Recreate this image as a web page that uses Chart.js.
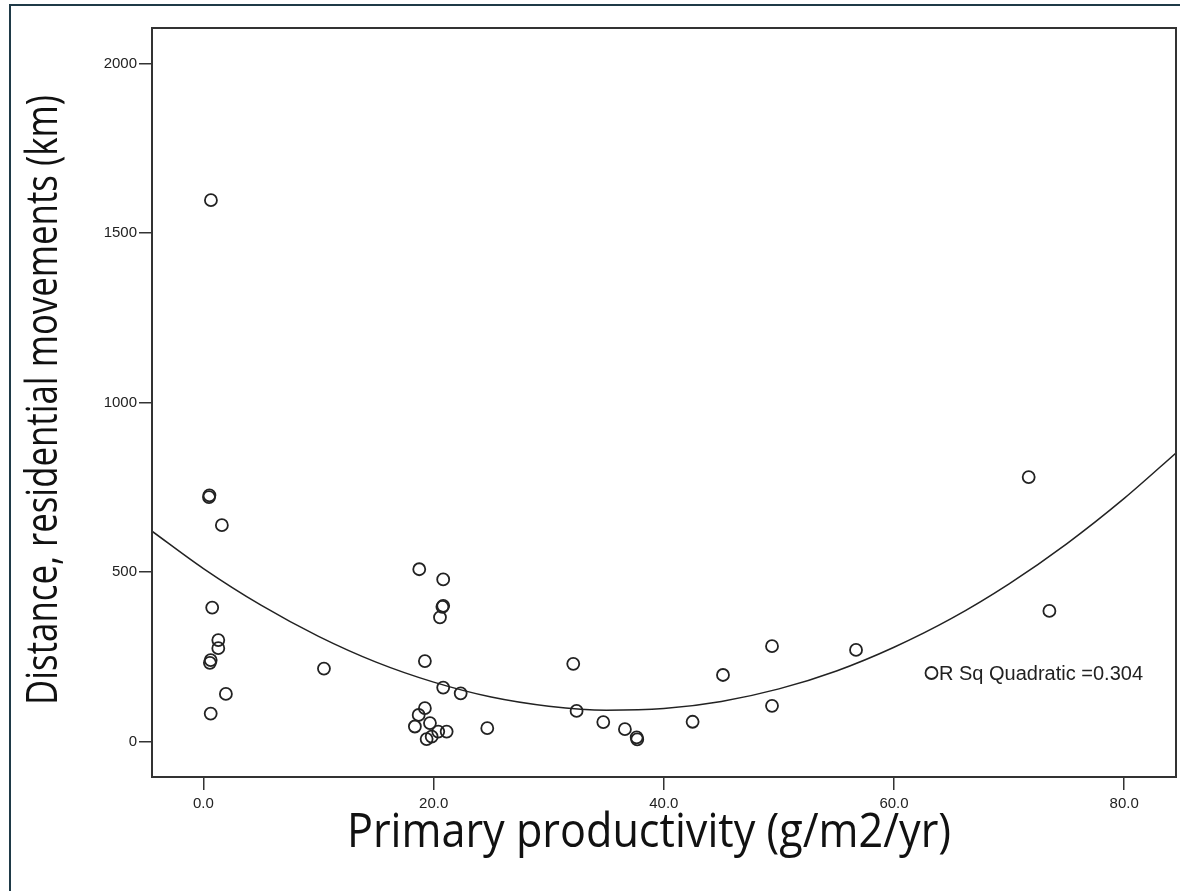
<!DOCTYPE html>
<html>
<head>
<meta charset="utf-8">
<title>Primary productivity vs residential movements</title>
<script src="https://cdn.jsdelivr.net/npm/chart.js@4.4.0/dist/chart.umd.min.js"></script>
<style>
  html, body { margin: 0; padding: 0; background: #fff; overflow: hidden; }
  #wrap { width: 1180px; height: 891px; position: relative; }
</style>
</head>
<body>
<div id="wrap"><canvas id="scatterChart"></canvas></div>
<script>
// observed points (g/m2/yr, km)
const prodX = [0.65, 0.48, 0.52, 1.6, 0.76, 1.29, 1.29, 0.63, 0.56, 1.95, 0.63, 10.47,
  18.75, 20.83, 20.83, 20.76, 20.55, 19.24, 20.83, 22.35, 24.66,
  19.24, 18.7, 18.37, 19.68, 19.39, 19.83, 20.4, 21.13,
  32.13, 32.42, 34.74, 36.62, 37.64, 37.69, 42.5,
  45.14, 49.4, 49.4, 56.7, 71.7, 73.5];
const distY = [1597, 721, 726, 638, 395, 299, 275, 240, 232, 140, 82, 215,
  508, 478, 400, 397, 366, 237, 159, 142, 39,
  98, 78, 44, 54, 7, 14, 29, 29,
  229, 90, 57, 36, 12, 6, 58,
  196, 281, 105, 270, 780, 385];

// quadratic fit line
const fitX = [-4.5, 0, 5, 10, 15, 20, 25, 30, 35, 40, 45, 50, 55, 60, 65, 70, 75, 80, 84.5];
const fitY = [621, 510, 402, 310, 234, 175, 131, 104, 92, 97, 118, 155, 208, 278, 363, 465, 583, 717, 851];

const xTicks = [0, 20, 40, 60, 80];
const yTicks = [0, 500, 1000, 1500, 2000];
const xTitle = "Primary productivity (g/m2/yr)";
const yTitle = "Distance, residential movements (km)";
const rSqLabel = "R Sq Quadratic =0.304";

let points = prodX.map((x, i) => ({ x: x, y: distY[i] }));
let curve = fitX.map((x, i) => ({ x: x, y: fitY[i] }));

// condensed title text: squeeze a humanist face to the width seen in the picture
function drawTitle(c, text, cx, cy, rot, size, targetW) {
  c.save();
  c.translate(cx, cy);
  c.rotate(rot);
  c.font = size + "px 'Open Sans', 'Noto Sans', sans-serif";
  const w = c.measureText(text).width;
  c.scale(targetW / w, 1);
  c.fillStyle = "#111111";
  c.textAlign = "center";
  c.textBaseline = "middle";
  c.fillText(text, 0, 0);
  c.restore();
}

const framePlugin = {
  id: "framePlugin",
  beforeDraw(chart) {
    const c = chart.ctx;
    c.save();
    c.fillStyle = "#ffffff";
    c.fillRect(0, 0, chart.width, chart.height);
    // outer window border
    c.strokeStyle = "#1f3a47";
    c.lineWidth = 2;
    c.beginPath();
    c.moveTo(10, chart.height);
    c.lineTo(10, 5);
    c.lineTo(chart.width, 5);
    c.stroke();
    c.restore();
  },
  afterDraw(chart) {
    const c = chart.ctx;
    const a = chart.chartArea;
    c.save();
    c.strokeStyle = "#333333";
    c.lineWidth = 2;
    c.strokeRect(a.left, a.top, a.right - a.left, a.bottom - a.top);

    // fit line label with marker
    c.lineWidth = 1.8;
    c.strokeStyle = "#222222";
    c.beginPath();
    c.arc(931.5, 673, 6, 0, Math.PI * 2);
    c.stroke();
    c.fillStyle = "#222222";
    c.font = "20px 'Liberation Sans', Arial, sans-serif";
    c.textBaseline = "middle";
    c.textAlign = "left";
    c.fillText(rSqLabel, 939, 674);
    c.restore();

    drawTitle(c, xTitle, 649, 833, 0, 48, 604);
    drawTitle(c, yTitle, 44, 400, -Math.PI / 2, 44, 610);
  }
};

let ctx = document.getElementById("scatterChart").getContext("2d");
let chart = new Chart(ctx, {
  type: "scatter",
  data: {
    datasets: [
      {
        label: "Observed",
        data: points,
        pointStyle: "circle",
        pointRadius: 6,
        pointBorderWidth: 1.8,
        pointBorderColor: "#222222",
        pointBackgroundColor: "rgba(0,0,0,0)",
        showLine: false,
      },
      {
        label: "Quadratic",
        type: "line",
        data: curve,
        borderColor: "#222222",
        borderWidth: 1.5,
        pointRadius: 0,
        fill: false,
        cubicInterpolationMode: "monotone",
      },
    ],
  },
  options: {
    responsive: true,
    maintainAspectRatio: false,
    animation: false,
    layout: { autoPadding: false, padding: { top: 28, right: 4, left: 0, bottom: 0 } },
    plugins: {
      legend: { display: false },
      tooltip: { enabled: false },
    },
    scales: {
      x: {
        type: "linear",
        min: -4.47,
        max: 84.5,
        afterBuildTicks: (scale) => {
          scale.ticks = xTicks.map((v) => ({ value: v }));
        },
        afterFit: (scale) => {
          scale.height = 114;
        },
        ticks: {
          padding: 5,
          color: "#222222",
          font: { family: "'Liberation Sans', Arial, sans-serif", size: 15 },
          callback: (v) => Number(v).toFixed(1),
        },
        grid: {
          drawOnChartArea: false,
          drawTicks: true,
          tickLength: 13,
          color: "#333333",
          lineWidth: 1.5,
        },
        border: { display: false },
      },
      y: {
        type: "linear",
        min: -105,
        max: 2105,
        afterBuildTicks: (scale) => {
          scale.ticks = yTicks.map((v) => ({ value: v }));
        },
        afterFit: (scale) => {
          scale.width = 152;
        },
        ticks: {
          padding: 2,
          color: "#222222",
          font: { family: "'Liberation Sans', Arial, sans-serif", size: 15 },
          callback: (v) => String(v),
        },
        grid: {
          drawOnChartArea: false,
          drawTicks: true,
          tickLength: 13,
          color: "#333333",
          lineWidth: 1.5,
        },
        border: { display: false },
      },
    },
  },
  plugins: [framePlugin],
});
</script>
</body>
</html>
